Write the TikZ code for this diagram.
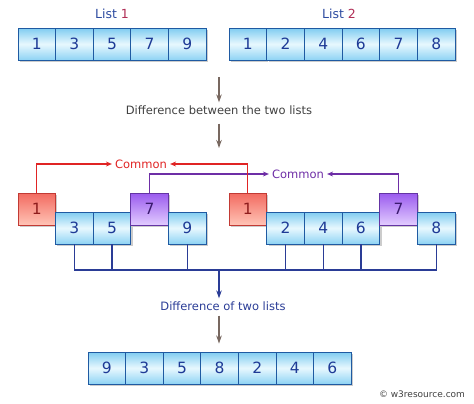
\documentclass[tikz,border=0pt]{standalone}
\usepackage{fontspec}
\setmainfont{DejaVu Sans}
\usetikzlibrary{arrows.meta,shadows}
\definecolor{cellline}{HTML}{1F5AA2}
\definecolor{celltop}{HTML}{7FCCF1}
\definecolor{cellmid}{HTML}{E8F8FE}
\definecolor{cellbot}{HTML}{8ED3F4}
\definecolor{celltext}{HTML}{1E3A96}
\definecolor{redline}{HTML}{C23A34}
\definecolor{redtop}{HTML}{F26A60}
\definecolor{redbot}{HTML}{FFC4B6}
\definecolor{redtext}{HTML}{8E1C1C}
\definecolor{purpleline}{HTML}{6434A4}
\definecolor{purpletop}{HTML}{9A5AEE}
\definecolor{purplebot}{HTML}{E2CCFF}
\definecolor{purpletext}{HTML}{3A1A6E}
\definecolor{linkred}{HTML}{E02424}
\definecolor{linkpurple}{HTML}{6E2EA6}
\definecolor{arrowgray}{HTML}{786860}
\definecolor{bracketblue}{HTML}{2A3C96}
\definecolor{listblue}{HTML}{2D4BA0}
\definecolor{listred}{HTML}{B02E56}
\definecolor{notegray}{HTML}{404040}
\tikzset{
  cellbox/.style={draw=cellline, line width=0.9bp, minimum width=37.6bp,
    minimum height=32bp, inner sep=0pt, top color=celltop,
    bottom color=cellbot, middle color=cellmid, text=celltext,
    font=\fontsize{15.5bp}{18bp}\selectfont,
    drop shadow={shadow xshift=1.8bp, shadow yshift=-2.2bp, opacity=0.4}},
  redbox/.style={cellbox, draw=redline, top color=redtop,
    bottom color=redbot, text=redtext},
  purplebox/.style={cellbox, draw=purpleline, top color=purpletop,
    bottom color=purplebot, text=purpletext},
  caption/.style={font=\fontsize{11.5bp}{14bp}\selectfont, inner sep=3bp},
  flow/.style={draw=arrowgray, line width=1.3bp,
    -{Stealth[length=8bp,width=5.5bp]}},
  redlink/.style={draw=linkred, line width=1.2bp,
    -{Stealth[length=6bp,width=5bp]}},
  purplelink/.style={draw=linkpurple, line width=1.2bp,
    -{Stealth[length=6bp,width=5bp]}},
  bracket/.style={draw=bracketblue, line width=1.4bp}
}
\begin{document}
\begin{tikzpicture}[x=1bp,y=-1bp]
  \useasboundingbox (0,0) rectangle (474,403);

  \node[font=\fontsize{12.5bp}{15bp}\selectfont, text=listblue] (title1)
  at (112,14) {List \textcolor{listred}{1}};
  \node[font=\fontsize{12.5bp}{15bp}\selectfont, text=listblue] (title2)
  at (339,14) {List \textcolor{listred}{2}};

  \node[cellbox] (a1) at (36.8,44) {1};
  \node[cellbox] (a2) at (74.4,44) {3};
  \node[cellbox] (a3) at (112,44) {5};
  \node[cellbox] (a4) at (149.6,44) {7};
  \node[cellbox] (a5) at (187.2,44) {9};

  \node[cellbox] (b1) at (247.8,44) {1};
  \node[cellbox] (b2) at (285.5,44) {2};
  \node[cellbox] (b3) at (323.2,44) {4};
  \node[cellbox] (b4) at (360.9,44) {6};
  \node[cellbox] (b5) at (398.6,44) {7};
  \node[cellbox] (b6) at (436.3,44) {8};

  \coordinate (gap) at (219,77); \coordinate (split) at (219,148);
  \node[caption, text=notegray] (diff1) at (219,110)
  {Difference between the two lists};
  \draw[flow] (gap) -- (diff1.north);
  \draw[flow, shorten <=6bp] (diff1.south) -- (split);

  \node[redbox] (ma1) at (36.8,209) {1};
  \node[cellbox] (ma2) at (74.4,228) {3};
  \node[cellbox] (ma3) at (112,228) {5};
  \node[purplebox] (ma4) at (149.6,209) {7};
  \node[cellbox] (ma5) at (187.2,228) {9};

  \node[redbox] (mb1) at (247.8,209) {1};
  \node[cellbox] (mb2) at (285.5,228) {2};
  \node[cellbox] (mb3) at (323.2,228) {4};
  \node[cellbox] (mb4) at (360.9,228) {6};
  \node[purplebox] (mb5) at (398.6,209) {7};
  \node[cellbox] (mb6) at (436.3,228) {8};

  \node[caption, text=linkpurple] (same7) at (298,174) {Common};
  \draw[purplelink] (ma4.north) |- (same7.west);
  \draw[purplelink] (mb5.north) |- (same7.east);

  \node[caption, text=linkred] (same1) at (141,164) {Common};
  \draw[redlink] (ma1.north) |- (same1.west);
  \draw[redlink] (mb1.north) |- (same1.east);

  \coordinate (join) at (219,270);
  \draw[bracket] (ma2.south) |- (join) -| (mb6.south);
  \draw[bracket] (ma3.south) -- (ma3.south |- join);
  \draw[bracket] (ma5.south) -- (ma5.south |- join);
  \draw[bracket] (mb2.south) -- (mb2.south |- join);
  \draw[bracket] (mb3.south) -- (mb3.south |- join);
  \draw[bracket] (mb4.south) -- (mb4.south |- join);

  \node[caption, text=bracketblue] (diff2) at (223,306)
  {Difference of two lists};
  \draw[bracket, -{Stealth[length=8bp,width=5.5bp]}] (join) -- (join |- diff2.north);

  \node[cellbox] (r1) at (106.8,368) {9};
  \node[cellbox] (r2) at (144.4,368) {3};
  \node[cellbox] (r3) at (182,368) {5};
  \node[cellbox] (r4) at (219.6,368) {8};
  \node[cellbox] (r5) at (257.2,368) {2};
  \node[cellbox] (r6) at (294.8,368) {4};
  \node[cellbox] (r7) at (332.4,368) {6};
  \draw[flow, shorten <=2bp, shorten >=8bp] (join |- diff2.south) -- (join |- r4.north);

  \node[font=\fontsize{9bp}{11bp}\selectfont, text=notegray] (credit)
  at (422,394) {© w3resource.com};
\end{tikzpicture}
\end{document}
